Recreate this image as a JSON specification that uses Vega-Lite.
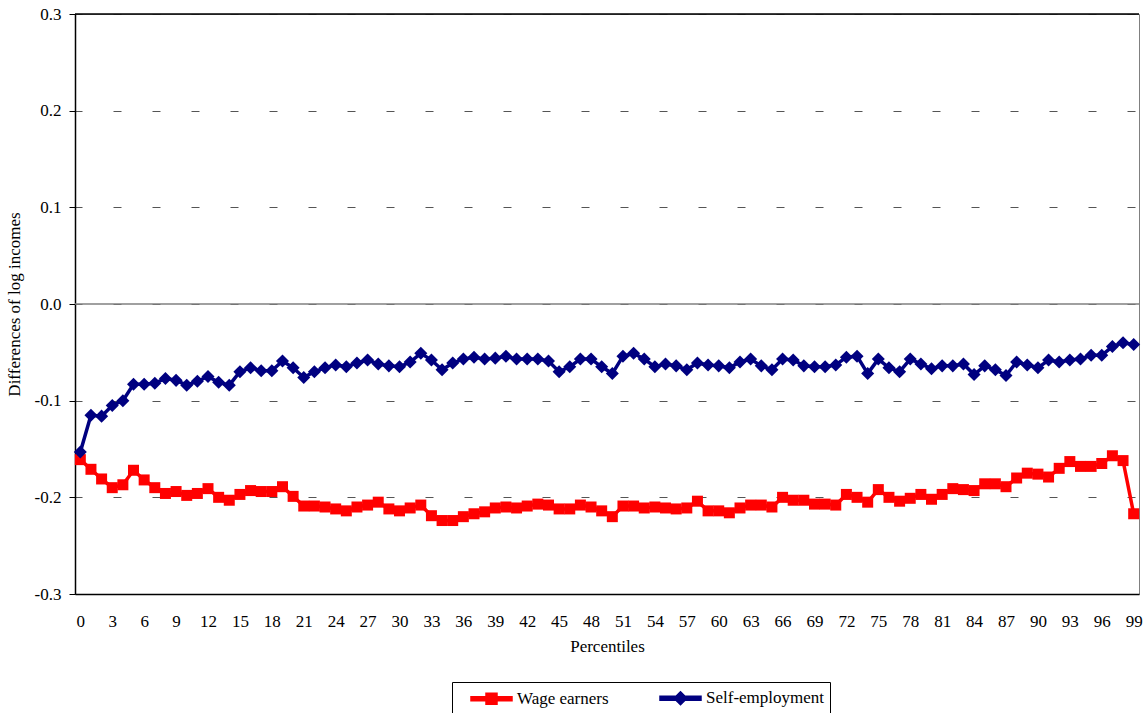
{
  "$schema": "https://vega.github.io/schema/vega-lite/v6.json",
  "width": 1064,
  "height": 580,
  "autosize": {"type": "none"},
  "padding": {"left": 75, "top": 14, "right": 9, "bottom": 119},
  "background": "white",
  "config": {
    "view": {"stroke": "#808080", "strokeWidth": 1},
    "font": "Liberation Serif",
    "axis": {"labelFont": "Liberation Serif", "titleFont": "Liberation Serif", "labelFontSize": 17, "titleFontSize": 17, "labelColor": "black", "titleColor": "black", "titleFontWeight": "normal"},
    "legend": {"labelFont": "Liberation Serif", "labelFontSize": 17, "labelColor": "black"}
  },
  "data": {"values": [
    {"p":0,"s":"Wage earners","v":-0.161},{"p":1,"s":"Wage earners","v":-0.171},{"p":2,"s":"Wage earners","v":-0.181},{"p":3,"s":"Wage earners","v":-0.190},{"p":4,"s":"Wage earners","v":-0.187},
    {"p":5,"s":"Wage earners","v":-0.172},{"p":6,"s":"Wage earners","v":-0.182},{"p":7,"s":"Wage earners","v":-0.190},{"p":8,"s":"Wage earners","v":-0.196},{"p":9,"s":"Wage earners","v":-0.194},
    {"p":10,"s":"Wage earners","v":-0.198},{"p":11,"s":"Wage earners","v":-0.196},{"p":12,"s":"Wage earners","v":-0.191},{"p":13,"s":"Wage earners","v":-0.200},{"p":14,"s":"Wage earners","v":-0.203},
    {"p":15,"s":"Wage earners","v":-0.197},{"p":16,"s":"Wage earners","v":-0.193},{"p":17,"s":"Wage earners","v":-0.194},{"p":18,"s":"Wage earners","v":-0.194},{"p":19,"s":"Wage earners","v":-0.189},
    {"p":20,"s":"Wage earners","v":-0.199},{"p":21,"s":"Wage earners","v":-0.209},{"p":22,"s":"Wage earners","v":-0.209},{"p":23,"s":"Wage earners","v":-0.210},{"p":24,"s":"Wage earners","v":-0.212},
    {"p":25,"s":"Wage earners","v":-0.214},{"p":26,"s":"Wage earners","v":-0.210},{"p":27,"s":"Wage earners","v":-0.208},{"p":28,"s":"Wage earners","v":-0.205},{"p":29,"s":"Wage earners","v":-0.212},
    {"p":30,"s":"Wage earners","v":-0.214},{"p":31,"s":"Wage earners","v":-0.211},{"p":32,"s":"Wage earners","v":-0.208},{"p":33,"s":"Wage earners","v":-0.219},{"p":34,"s":"Wage earners","v":-0.224},
    {"p":35,"s":"Wage earners","v":-0.224},{"p":36,"s":"Wage earners","v":-0.220},{"p":37,"s":"Wage earners","v":-0.217},{"p":38,"s":"Wage earners","v":-0.215},{"p":39,"s":"Wage earners","v":-0.211},
    {"p":40,"s":"Wage earners","v":-0.210},{"p":41,"s":"Wage earners","v":-0.211},{"p":42,"s":"Wage earners","v":-0.209},{"p":43,"s":"Wage earners","v":-0.207},{"p":44,"s":"Wage earners","v":-0.208},
    {"p":45,"s":"Wage earners","v":-0.212},{"p":46,"s":"Wage earners","v":-0.212},{"p":47,"s":"Wage earners","v":-0.208},{"p":48,"s":"Wage earners","v":-0.210},{"p":49,"s":"Wage earners","v":-0.214},
    {"p":50,"s":"Wage earners","v":-0.220},{"p":51,"s":"Wage earners","v":-0.209},{"p":52,"s":"Wage earners","v":-0.209},{"p":53,"s":"Wage earners","v":-0.211},{"p":54,"s":"Wage earners","v":-0.210},
    {"p":55,"s":"Wage earners","v":-0.211},{"p":56,"s":"Wage earners","v":-0.212},{"p":57,"s":"Wage earners","v":-0.211},{"p":58,"s":"Wage earners","v":-0.204},{"p":59,"s":"Wage earners","v":-0.214},
    {"p":60,"s":"Wage earners","v":-0.214},{"p":61,"s":"Wage earners","v":-0.216},{"p":62,"s":"Wage earners","v":-0.211},{"p":63,"s":"Wage earners","v":-0.208},{"p":64,"s":"Wage earners","v":-0.208},
    {"p":65,"s":"Wage earners","v":-0.210},{"p":66,"s":"Wage earners","v":-0.200},{"p":67,"s":"Wage earners","v":-0.203},{"p":68,"s":"Wage earners","v":-0.203},{"p":69,"s":"Wage earners","v":-0.207},
    {"p":70,"s":"Wage earners","v":-0.207},{"p":71,"s":"Wage earners","v":-0.208},{"p":72,"s":"Wage earners","v":-0.197},{"p":73,"s":"Wage earners","v":-0.200},{"p":74,"s":"Wage earners","v":-0.205},
    {"p":75,"s":"Wage earners","v":-0.192},{"p":76,"s":"Wage earners","v":-0.200},{"p":77,"s":"Wage earners","v":-0.204},{"p":78,"s":"Wage earners","v":-0.201},{"p":79,"s":"Wage earners","v":-0.197},
    {"p":80,"s":"Wage earners","v":-0.202},{"p":81,"s":"Wage earners","v":-0.197},{"p":82,"s":"Wage earners","v":-0.191},{"p":83,"s":"Wage earners","v":-0.192},{"p":84,"s":"Wage earners","v":-0.193},
    {"p":85,"s":"Wage earners","v":-0.186},{"p":86,"s":"Wage earners","v":-0.186},{"p":87,"s":"Wage earners","v":-0.189},{"p":88,"s":"Wage earners","v":-0.180},{"p":89,"s":"Wage earners","v":-0.175},
    {"p":90,"s":"Wage earners","v":-0.176},{"p":91,"s":"Wage earners","v":-0.179},{"p":92,"s":"Wage earners","v":-0.170},{"p":93,"s":"Wage earners","v":-0.163},{"p":94,"s":"Wage earners","v":-0.168},
    {"p":95,"s":"Wage earners","v":-0.168},{"p":96,"s":"Wage earners","v":-0.165},{"p":97,"s":"Wage earners","v":-0.157},{"p":98,"s":"Wage earners","v":-0.162},{"p":99,"s":"Wage earners","v":-0.217},
    {"p":0,"s":"Self-employment","v":-0.153},{"p":1,"s":"Self-employment","v":-0.115},{"p":2,"s":"Self-employment","v":-0.116},{"p":3,"s":"Self-employment","v":-0.105},{"p":4,"s":"Self-employment","v":-0.100},
    {"p":5,"s":"Self-employment","v":-0.083},{"p":6,"s":"Self-employment","v":-0.083},{"p":7,"s":"Self-employment","v":-0.082},{"p":8,"s":"Self-employment","v":-0.077},{"p":9,"s":"Self-employment","v":-0.079},
    {"p":10,"s":"Self-employment","v":-0.084},{"p":11,"s":"Self-employment","v":-0.080},{"p":12,"s":"Self-employment","v":-0.075},{"p":13,"s":"Self-employment","v":-0.081},{"p":14,"s":"Self-employment","v":-0.084},
    {"p":15,"s":"Self-employment","v":-0.070},{"p":16,"s":"Self-employment","v":-0.066},{"p":17,"s":"Self-employment","v":-0.069},{"p":18,"s":"Self-employment","v":-0.069},{"p":19,"s":"Self-employment","v":-0.059},
    {"p":20,"s":"Self-employment","v":-0.066},{"p":21,"s":"Self-employment","v":-0.076},{"p":22,"s":"Self-employment","v":-0.070},{"p":23,"s":"Self-employment","v":-0.066},{"p":24,"s":"Self-employment","v":-0.063},
    {"p":25,"s":"Self-employment","v":-0.065},{"p":26,"s":"Self-employment","v":-0.061},{"p":27,"s":"Self-employment","v":-0.058},{"p":28,"s":"Self-employment","v":-0.062},{"p":29,"s":"Self-employment","v":-0.064},
    {"p":30,"s":"Self-employment","v":-0.065},{"p":31,"s":"Self-employment","v":-0.060},{"p":32,"s":"Self-employment","v":-0.051},{"p":33,"s":"Self-employment","v":-0.058},{"p":34,"s":"Self-employment","v":-0.068},
    {"p":35,"s":"Self-employment","v":-0.061},{"p":36,"s":"Self-employment","v":-0.057},{"p":37,"s":"Self-employment","v":-0.055},{"p":38,"s":"Self-employment","v":-0.057},{"p":39,"s":"Self-employment","v":-0.056},
    {"p":40,"s":"Self-employment","v":-0.054},{"p":41,"s":"Self-employment","v":-0.057},{"p":42,"s":"Self-employment","v":-0.057},{"p":43,"s":"Self-employment","v":-0.057},{"p":44,"s":"Self-employment","v":-0.059},
    {"p":45,"s":"Self-employment","v":-0.070},{"p":46,"s":"Self-employment","v":-0.065},{"p":47,"s":"Self-employment","v":-0.057},{"p":48,"s":"Self-employment","v":-0.057},{"p":49,"s":"Self-employment","v":-0.065},
    {"p":50,"s":"Self-employment","v":-0.072},{"p":51,"s":"Self-employment","v":-0.054},{"p":52,"s":"Self-employment","v":-0.051},{"p":53,"s":"Self-employment","v":-0.057},{"p":54,"s":"Self-employment","v":-0.065},
    {"p":55,"s":"Self-employment","v":-0.062},{"p":56,"s":"Self-employment","v":-0.064},{"p":57,"s":"Self-employment","v":-0.068},{"p":58,"s":"Self-employment","v":-0.061},{"p":59,"s":"Self-employment","v":-0.063},
    {"p":60,"s":"Self-employment","v":-0.064},{"p":61,"s":"Self-employment","v":-0.066},{"p":62,"s":"Self-employment","v":-0.060},{"p":63,"s":"Self-employment","v":-0.057},{"p":64,"s":"Self-employment","v":-0.064},
    {"p":65,"s":"Self-employment","v":-0.068},{"p":66,"s":"Self-employment","v":-0.057},{"p":67,"s":"Self-employment","v":-0.058},{"p":68,"s":"Self-employment","v":-0.064},{"p":69,"s":"Self-employment","v":-0.065},
    {"p":70,"s":"Self-employment","v":-0.065},{"p":71,"s":"Self-employment","v":-0.063},{"p":72,"s":"Self-employment","v":-0.055},{"p":73,"s":"Self-employment","v":-0.054},{"p":74,"s":"Self-employment","v":-0.072},
    {"p":75,"s":"Self-employment","v":-0.057},{"p":76,"s":"Self-employment","v":-0.066},{"p":77,"s":"Self-employment","v":-0.070},{"p":78,"s":"Self-employment","v":-0.057},{"p":79,"s":"Self-employment","v":-0.062},
    {"p":80,"s":"Self-employment","v":-0.067},{"p":81,"s":"Self-employment","v":-0.064},{"p":82,"s":"Self-employment","v":-0.064},{"p":83,"s":"Self-employment","v":-0.062},{"p":84,"s":"Self-employment","v":-0.073},
    {"p":85,"s":"Self-employment","v":-0.064},{"p":86,"s":"Self-employment","v":-0.068},{"p":87,"s":"Self-employment","v":-0.074},{"p":88,"s":"Self-employment","v":-0.060},{"p":89,"s":"Self-employment","v":-0.063},
    {"p":90,"s":"Self-employment","v":-0.066},{"p":91,"s":"Self-employment","v":-0.058},{"p":92,"s":"Self-employment","v":-0.060},{"p":93,"s":"Self-employment","v":-0.058},{"p":94,"s":"Self-employment","v":-0.057},
    {"p":95,"s":"Self-employment","v":-0.053},{"p":96,"s":"Self-employment","v":-0.053},{"p":97,"s":"Self-employment","v":-0.044},{"p":98,"s":"Self-employment","v":-0.040},{"p":99,"s":"Self-employment","v":-0.042}
  ]},
  "layer": [
    {
      "encoding": {
        "x": {
          "field": "p", "type": "quantitative",
          "scale": {"domain": [-0.5, 99.5], "nice": false, "zero": false},
          "axis": {
            "title": "Percentiles",
            "values": [0,3,6,9,12,15,18,21,24,27,30,33,36,39,42,45,48,51,54,57,60,63,66,69,72,75,78,81,84,87,90,93,96,99],
            "grid": false, "ticks": false, "labelPadding": 19, "labelFlush": false, "labelOverlap": false,
            "domainColor": "black", "domainWidth": 1.5,
            "labelFont": "Liberation Serif", "labelFontSize": 17, "labelColor": "black",
            "titleFont": "Liberation Serif", "titleFontSize": 17, "titleFontWeight": "normal", "titleColor": "black", "titlePadding": 9
          }
        },
        "y": {
          "field": "v", "type": "quantitative",
          "scale": {"domain": [-0.3, 0.3], "nice": false, "zero": false},
          "axis": {
            "title": "Differences of log incomes",
            "values": [-0.3,-0.2,-0.1,0,0.1,0.2,0.3],
            "labelExpr": "replace(format(datum.value, '.1f'), '\u2212', '-')",
            "grid": true, "gridColor": "#555555", "gridDash": [8, 31], "gridDashOffset": 1, "gridWidth": 1,
            "tickColor": "black", "tickSize": 6, "labelPadding": 8,
            "domainColor": "black", "domainWidth": 1.5,
            "labelFont": "Liberation Serif", "labelFontSize": 17, "labelColor": "black",
            "titleFont": "Liberation Serif", "titleFontSize": 17, "titleFontWeight": "normal", "titleColor": "black", "titlePadding": 11
          }
        },
        "color": {
          "field": "s", "type": "nominal",
          "scale": {"domain": ["Wage earners", "Self-employment"], "range": ["#FF0000", "#000080"]},
          "legend": {
            "title": null, "orient": "none", "legendX": 377, "legendY": 668,
            "direction": "horizontal", "columns": 2, "gridAlign": "all", "columnPadding": 10,
            "padding": 5, "strokeColor": "black",
            "symbolSize": 400, "labelOffset": 38,
            "labelFont": "Liberation Serif", "labelFontSize": 17, "labelColor": "black",
            "symbolType": "M0.3,-0.2H4.4V0.2H0.3Z",
            "encode": {
              "symbols": {
                "update": {
                  "shape": {"signal": "datum.value === 'Wage earners' ? 'M0.3,-0.2H4.4V0.2H0.3Z M1.8,-0.55H2.9V0.55H1.8Z' : 'M0.3,-0.2H4.4V0.2H0.3Z M1.7,0L2.35,-0.65L3,0L2.35,0.65Z'"},
                  "fill": {"signal": "datum.value === 'Wage earners' ? '#FF0000' : '#000080'"},
                  "stroke": {"value": "transparent"},
                  "opacity": {"value": 1}
                }
              }
            }
          }
        }
      },
      "layer": [
        {"mark": {"type": "line", "strokeWidth": 3.5}},
        {
          "transform": [{"filter": "datum.s === 'Wage earners'"}],
          "mark": {"type": "point", "shape": "square", "filled": true, "size": 121, "opacity": 1}
        },
        {
          "transform": [{"filter": "datum.s === 'Self-employment'"}],
          "mark": {"type": "point", "shape": "diamond", "filled": true, "size": 170, "opacity": 1}
        }
      ]
    },
    {
      "data": {"values": [{"z": 0}]},
      "mark": {"type": "rule", "color": "#808080", "strokeWidth": 1.5},
      "encoding": {"y": {"field": "z", "type": "quantitative", "axis": {"title": "Differences of log incomes"}}}
    },
    {
      "data": {"values": [{"z": 0.3}]},
      "mark": {"type": "rule", "color": "black", "strokeWidth": 1.5},
      "encoding": {"y": {"field": "z", "type": "quantitative", "axis": {"title": "Differences of log incomes"}}}
    }
  ]
}
